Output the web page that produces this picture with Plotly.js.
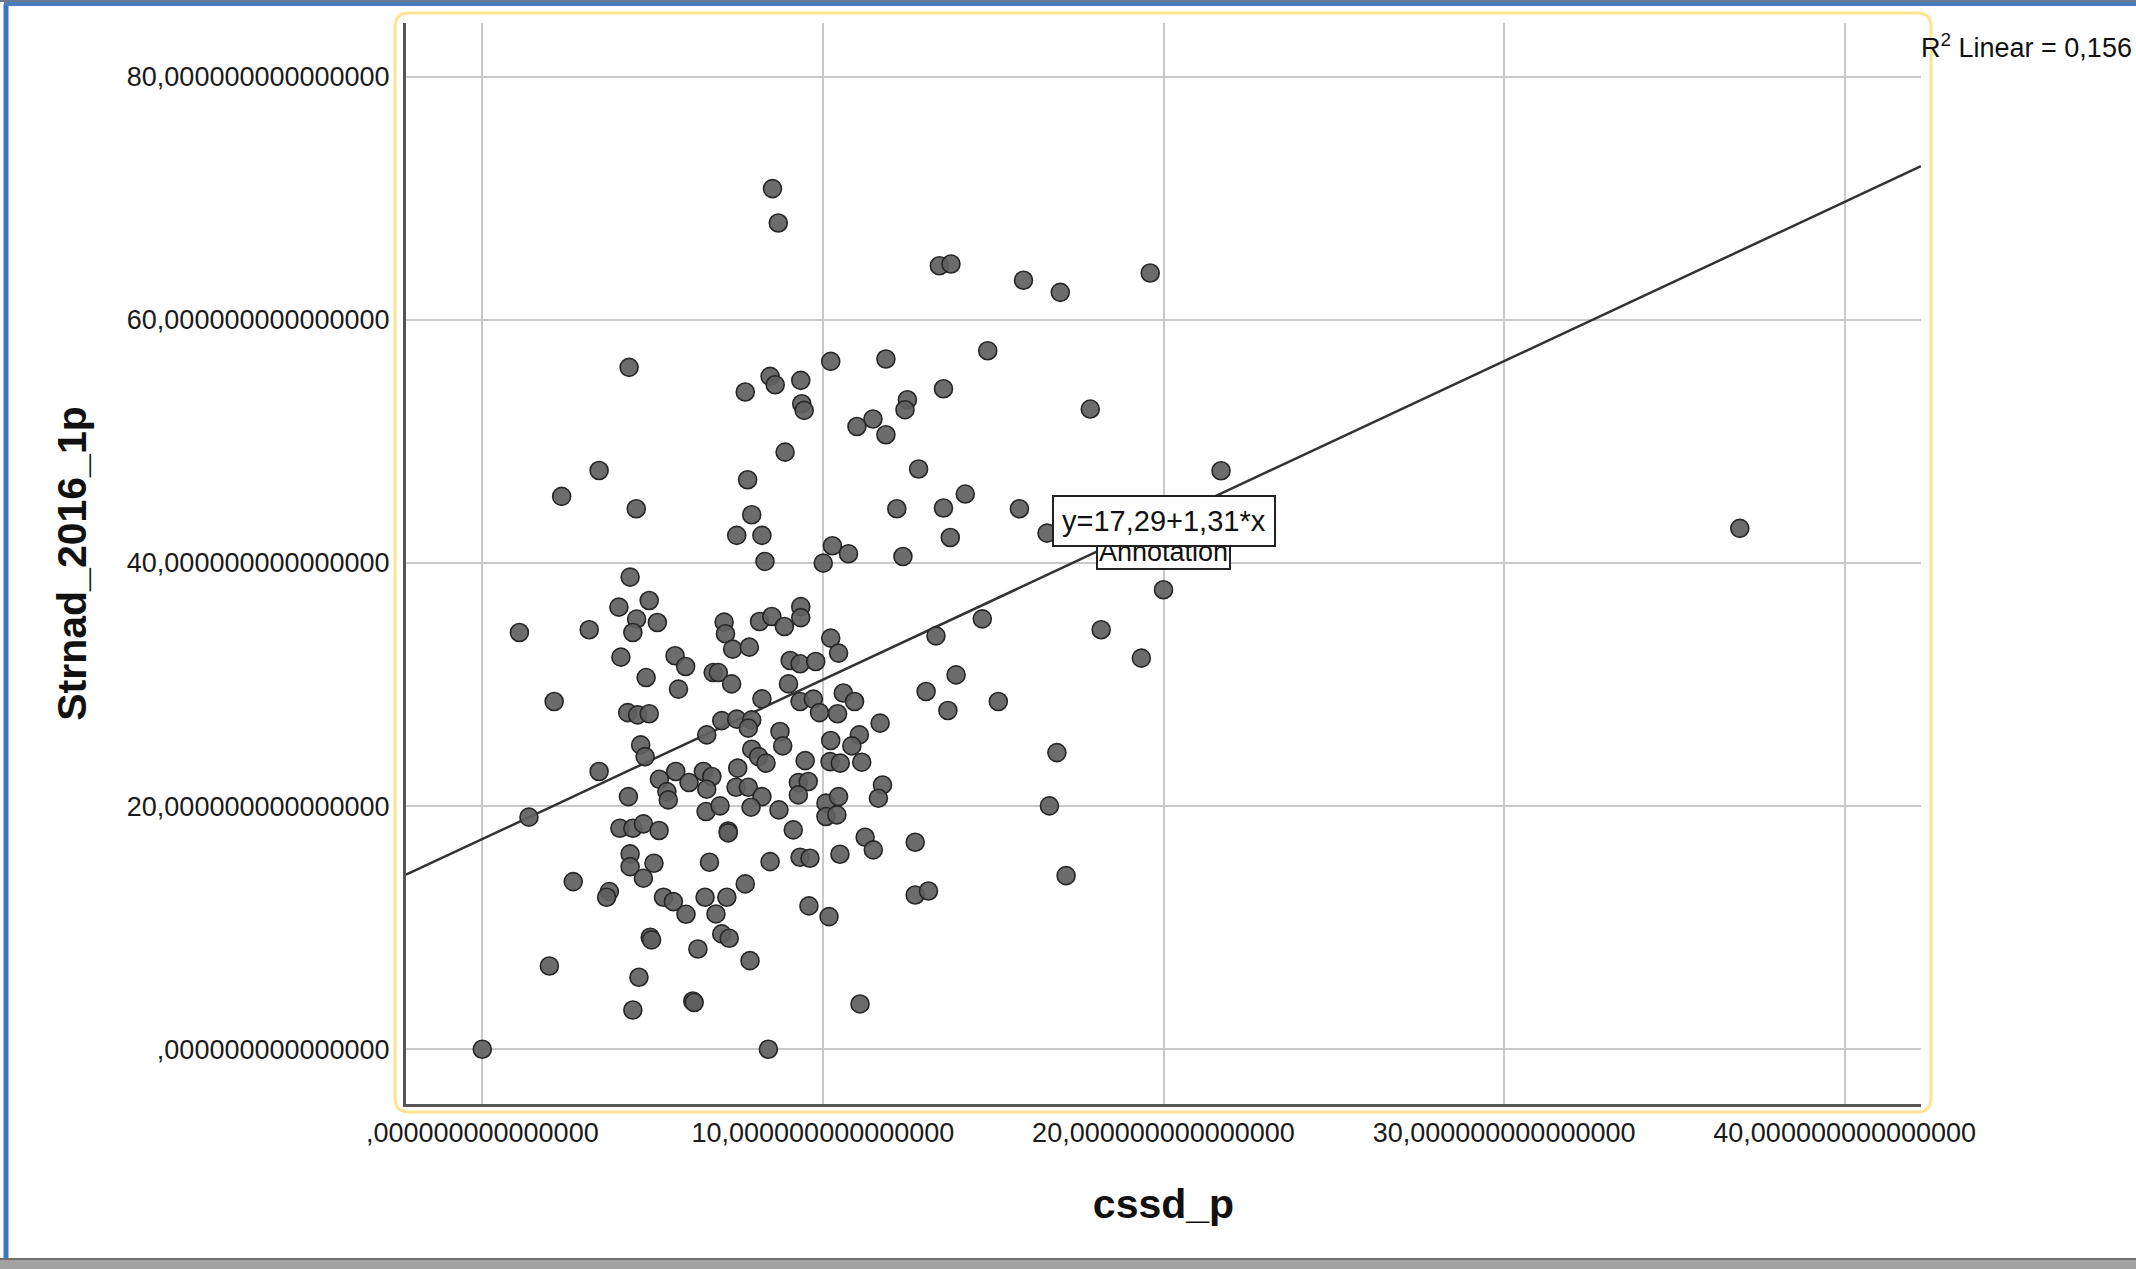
<!DOCTYPE html>
<html>
<head>
<meta charset="utf-8">
<script src="https://cdn.plot.ly/plotly-3.0.1.min.js"></script>
<style>html,body{margin:0;padding:0;background:#fff;}#chart{width:2136px;height:1269px;}</style>
</head>
<body>
<div id="chart"></div>
<script>
// ---- data ----
const cssd_p = [
 8.52,8.69,4.31,10.23,11.85,7.72,8.45,8.60,9.35,9.38,9.45,11.0,11.47,11.85,12.48,12.41,8.89,3.43,2.33,4.52,7.79,7.91,7.47,8.21,8.30,10.28,10.75,10.01,12.17,
 13.42,13.76,15.89,16.97,19.61,14.84,13.54,17.85,21.69,12.81,14.18,13.54,15.77,13.74,12.35,16.58,
 4.34,4.01,4.90,4.53,4.42,5.14,1.09,3.14,4.07,7.10,7.14,7.35,7.84,8.14,8.50,8.87,9.35,9.35,10.23,10.46,9.04,9.33,9.79,5.66,5.97,4.81,2.11,5.76,6.78,6.93,7.32,8.99,8.21,9.33,9.72,9.90,10.43,10.6,
 4.27,4.56,4.90,6.59,7.03,7.47,7.91,7.81,8.74,8.82,7.91,8.11,8.33,4.65,4.78,3.43,1.37,10.23,10.21,10.51,9.48,5.20,5.68,5.42,5.46,6.07,6.49,6.74,6.59,7.5,7.45,7.81,8.21,7.89,6.57,6.98,8.71,9.28,9.57,9.28,10.09,10.46,10.09,10.41,4.29,4.04,4.42,4.73,5.19,7.22,7.22,9.13,
 20.0,14.68,13.32,18.17,19.35,13.91,13.03,13.67,15.15,10.93,11.68,11.07,10.85,11.14,16.87,11.75,11.63,16.65,
 4.34,4.34,5.04,4.73,2.67,3.73,3.65,5.32,5.61,5.98,6.54,7.18,6.86,7.72,6.67,8.45,9.33,9.62,10.5,11.24,11.48,4.93,4.97,7.03,7.25,6.33,7.86,1.97,9.59,10.18,4.60,4.42,6.18,6.22,11.09,0,8.40,12.71,12.71,13.1,17.14,
 36.92
];
const strnad_2016_1p = [
 70.78,67.95,56.08,56.57,56.77,54.05,55.34,54.65,55.01,53.09,52.54,51.22,51.83,50.54,53.42,52.6,49.11,47.6,45.47,44.45,46.84,43.96,42.26,42.26,40.12,41.41,40.75,39.98,44.45,
 64.44,64.58,63.24,62.25,63.84,57.45,54.32,52.65,47.58,47.72,45.66,44.51,44.45,42.09,40.53,42.45,
 38.83,36.36,36.91,35.38,34.28,35.1,34.28,34.5,32.25,35.13,34.17,32.91,33.07,35.18,35.59,34.77,36.4,35.5,33.81,32.58,31.97,31.7,31.89,32.36,31.48,30.57,28.6,29.62,30.98,30.98,30.05,30.05,28.82,28.6,28.8,27.69,27.59,29.3,
 27.69,27.5,27.59,25.86,27.03,27.15,27.09,26.41,26.13,24.95,24.68,24.07,23.53,25.03,24.07,22.84,19.09,25.39,23.66,23.53,23.74,22.21,22.84,21.19,20.51,21.94,22.84,22.43,21.39,23.12,21.55,21.55,20.78,19.91,19.55,20.02,19.69,21.93,22.02,20.92,20.24,20.78,19.14,19.28,20.78,18.18,18.18,18.54,17.99,17.95,17.8,18.04,
 37.79,35.4,34.0,34.5,32.17,30.79,29.42,27.86,28.6,28.6,26.82,25.86,24.95,23.61,24.4,21.74,20.65,20.02,
 16.07,15.02,15.3,14.07,13.79,12.97,12.5,12.5,12.14,11.1,12.5,12.5,11.13,13.6,15.38,15.43,15.79,15.71,16.04,17.44,16.4,9.21,9.0,9.49,9.13,8.25,7.29,6.85,11.79,10.91,5.92,3.23,3.97,3.85,3.73,0,0,17.03,12.69,13.02,14.28,
 42.84
];
const fitIntercept = 17.29;
const fitSlope = 1.31;
const rSquared = "0,156";
const xTickVals = [0, 10, 20, 30, 40];
const xTickText = [",000000000000000", "10,000000000000000", "20,000000000000000", "30,000000000000000", "40,000000000000000"];
const yTickVals = [0, 20, 40, 60, 80];
const yTickText = [",000000000000000", "20,000000000000000", "40,000000000000000", "60,000000000000000", "80,000000000000000"];
const xRange = [-2.24, 42.24];
const yRange = [-4.5, 84.4];

// ---- geometry helpers (pixel -> paper) ----
const ML = 406, MR = 215, MT = 23, MB = 165, W = 2136, H = 1269;
const PW = W - ML - MR, PH = H - MT - MB;
const PX = x => (x - ML) / PW;
const PY = y => (H - MB - y) / PH;

const fitX = xRange.slice();
const fitY = fitX.map(x => fitIntercept + fitSlope * x);

const FONT = "Liberation Sans, Arial, Helvetica, sans-serif";

const traces = [
  {
    x: fitX, y: fitY, type: "scatter", mode: "lines",
    line: {color: "#333333", width: 2.5}, hoverinfo: "skip", showlegend: false
  },
  {
    x: cssd_p, y: strnad_2016_1p, type: "scatter", mode: "markers",
    marker: {size: 18, color: "rgba(95,95,95,0.92)", line: {color: "#262626", width: 1.6}},
    showlegend: false
  }
];

// rounded yellow frame
function roundRect(x0, y0, x1, y1, r) {
  const p = (x, y) => PX(x).toFixed(5) + "," + PY(y).toFixed(5);
  return "M" + p(x0 + r, y0) + " L" + p(x1 - r, y0) + " Q" + p(x1, y0) + " " + p(x1, y0 + r) +
    " L" + p(x1, y1 - r) + " Q" + p(x1, y1) + " " + p(x1 - r, y1) +
    " L" + p(x0 + r, y1) + " Q" + p(x0, y1) + " " + p(x0, y1 - r) +
    " L" + p(x0, y0 + r) + " Q" + p(x0, y0) + " " + p(x0 + r, y0) + " Z";
}

const layout = {
  width: W, height: H,
  margin: {l: ML, r: MR, t: MT, b: MB, pad: 0},
  paper_bgcolor: "#ffffff", plot_bgcolor: "#ffffff",
  font: {family: FONT, color: "#1a1a1a"},
  showlegend: false,
  xaxis: {
    range: xRange, tickvals: xTickVals, ticktext: xTickText,
    tickfont: {size: 27, family: FONT, color: "#1a1a1a"},
    showgrid: true, gridcolor: "#c9c9c9", gridwidth: 2,
    zeroline: false, showline: true, linecolor: "#555555", linewidth: 3,
    ticks: "", ticklabelstandoff: 3,
    title: {text: "cssd_p", font: {size: 41, family: FONT, color: "#111", weight: "bold"}, standoff: 42}
  },
  yaxis: {
    range: yRange, tickvals: yTickVals, ticktext: yTickText,
    tickfont: {size: 27, family: FONT, color: "#1a1a1a"},
    showgrid: true, gridcolor: "#c9c9c9", gridwidth: 2,
    zeroline: false, showline: true, linecolor: "#555555", linewidth: 3,
    ticks: "", ticklabelstandoff: 8,
    title: {text: "Strnad_2016_1p", font: {size: 41, family: FONT, color: "#111", weight: "bold"}, standoff: 28}
  },
  shapes: [
    {type: "path", xref: "paper", yref: "paper", path: roundRect(395, 13, 1931, 1112, 14),
     line: {color: "#ffe391", width: 3}, fillcolor: "rgba(0,0,0,0)", layer: "below"},
    {type: "line", xref: "paper", yref: "paper", x0: PX(6), x1: PX(6), y0: PY(4), y1: PY(1260),
     line: {color: "#3d74c2", width: 5}},
    {type: "line", xref: "paper", yref: "paper", x0: PX(4), x1: PX(2136), y0: PY(4), y1: PY(4),
     line: {color: "#4a7cc0", width: 4}},
    {type: "line", xref: "paper", yref: "paper", x0: PX(0), x1: PX(2136), y0: PY(1), y1: PY(1),
     line: {color: "#6a7a90", width: 2}},
    {type: "rect", xref: "paper", yref: "paper", x0: PX(0), x1: PX(2136), y0: PY(1259), y1: PY(1269),
     line: {width: 0}, fillcolor: "#a3a3a3"},
    {type: "line", xref: "paper", yref: "paper", x0: PX(0), x1: PX(2136), y0: PY(1259), y1: PY(1259),
     line: {color: "#6e6e6e", width: 2}}
  ],
  annotations: [
    {xref: "paper", yref: "paper", x: PX(1163), y: PY(552), xanchor: "center", yanchor: "middle",
     text: "Annotation", showarrow: false, font: {size: 27, family: FONT, color: "#111"},
     bgcolor: "#ffffff", bordercolor: "#222", borderwidth: 2, borderpad: 1},
    {xref: "paper", yref: "paper", x: PX(1164), y: PY(521), xanchor: "center", yanchor: "middle",
     text: "y=" + String(fitIntercept).replace(".", ",") + "+" + String(fitSlope).replace(".", ",") + "*x",
     showarrow: false, font: {size: 29, family: FONT, color: "#111"},
     bgcolor: "#ffffff", bordercolor: "#222", borderwidth: 2, borderpad: 8},
    {xref: "paper", yref: "paper", x: PX(1919), y: PY(46), xanchor: "left", yanchor: "middle",
     text: "R<sup>2</sup> Linear = " + rSquared, showarrow: false,
     font: {size: 27, family: FONT, color: "#111"}}
  ]
};

Plotly.newPlot("chart", traces, layout, {displayModeBar: false, staticPlot: true});
</script>
</body>
</html>
